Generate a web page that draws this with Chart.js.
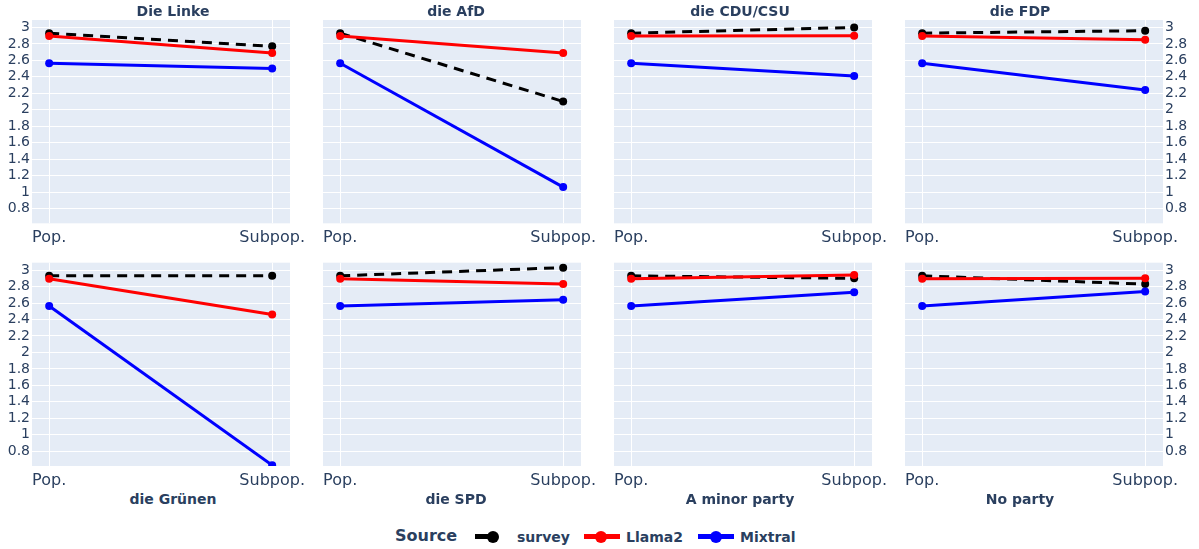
<!DOCTYPE html>
<html>
<head>
<meta charset="utf-8">
<script src="https://cdn.jsdelivr.net/npm/chart.js@4"></script>
<style>
  body { margin: 0; background: #fff; }
  #wrap { position: relative; width: 1199px; height: 549px; overflow: hidden; font-family: 'DejaVu Sans', sans-serif; color: #2a3f5f; }
  #wrap canvas { position: absolute; }
  .title { position: absolute; width: 200px; text-align: center; font-weight: bold; font-size: 14px; line-height: 16px; white-space: nowrap; }
  .lg-text { position: absolute; font-weight: bold; font-size: 14px; line-height: 16px; top: 529px; white-space: nowrap; }
  .lg-head { position: absolute; font-weight: bold; font-size: 16px; line-height: 18px; top: 527px; left: 395px; }
  .lg-line { position: absolute; height: 5px; top: 534px; }
  .lg-dot { position: absolute; width: 12px; height: 12px; border-radius: 50%; top: 531px; }
</style>
</head>
<body>
<div id="wrap"></div>
<script>
// ---- data ----
const categories = ['Pop.', 'Subpop.'];
const parties = ['Die Linke', 'die AfD', 'die CDU/CSU', 'die FDP', 'die Grünen', 'die SPD', 'A minor party', 'No party'];
const seriesNames = ['survey', 'Llama2', 'Mixtral'];
const seriesColors = ['#000000', '#ff0000', '#0000ff'];
const popValues = [2.93, 2.895, 2.565];
const surveySubpop = [2.77, 2.10, 3.00, 2.96, 2.93, 3.03, 2.90, 2.83];
const llamaSubpop = [2.69, 2.69, 2.90, 2.85, 2.46, 2.83, 2.94, 2.90];
const mixtralSubpop = [2.50, 1.06, 2.41, 2.24, 0.63, 2.64, 2.73, 2.74];
const yTicks = [0.8, 1, 1.2, 1.4, 1.6, 1.8, 2, 2.2, 2.4, 2.6, 2.8, 3];

const subpopValues = [surveySubpop, llamaSubpop, mixtralSubpop];

// ---- layout ----
const FONT = "'DejaVu Sans', sans-serif";
const TEXT = '#2a3f5f';
const plotLeft = [32, 323, 614, 905];
const plotWidth = 258;
const titleCenter = [173, 456, 740, 1020];
const LEFT_W = 30;
const RIGHT_W = 36;

const wrap = document.getElementById('wrap');

// plotly-like panel background
const plotBg = {
  id: 'plotBg',
  beforeDraw(chart) {
    const { ctx, chartArea: a } = chart;
    ctx.save();
    ctx.fillStyle = '#e5ecf6';
    ctx.fillRect(a.left, a.top, a.width, a.height);
    ctx.restore();
  },
};

function makePanel(i) {
  const col = i % 4;
  const row = Math.floor(i / 4);
  const rightAxis = col === 3;

  const canvas = document.createElement('canvas');
  canvas.width = LEFT_W + plotWidth + RIGHT_W;
  canvas.height = row === 0 ? 250 : 240;
  canvas.style.left = (plotLeft[col] - LEFT_W) + 'px';
  canvas.style.top = (row === 0 ? 0 : 250) + 'px';
  wrap.appendChild(canvas);

  const title = document.createElement('div');
  title.className = 'title';
  title.textContent = parties[i];
  title.style.left = (titleCenter[col] - 100) + 'px';
  title.style.top = (row === 0 ? 2.5 : 491) + 'px';
  wrap.appendChild(title);

  const xAxisH = row === 0 ? 26.7 : 24;

  new Chart(canvas, {
    type: 'line',
    data: {
      datasets: seriesNames.map((name, s) => ({
        label: name,
        data: categories.map((c, k) => ({ x: k, y: k === 0 ? popValues[s] : subpopValues[s][i] })),
        borderColor: seriesColors[s],
        backgroundColor: seriesColors[s],
        borderWidth: 3,
        borderDash: s === 0 ? [10, 7] : [],
        pointRadius: 4,
        pointHoverRadius: 4,
        pointBorderWidth: 0,
        order: 3 - s,
        clip: 0,
      })),
    },
    options: {
      responsive: false,
      animation: false,
      layout: {
        padding: {
          top: row === 0 ? 20 : 12.7,
          bottom: 0,
          left: rightAxis ? LEFT_W : 0,
          right: rightAxis ? 0 : RIGHT_W,
        },
      },
      plugins: {
        legend: { display: false },
        tooltip: { enabled: false },
      },
      scales: {
        x: {
          type: 'linear',
          min: -0.077,
          max: 1.08,
          afterBuildTicks: s => { s.ticks = categories.map((c, k) => ({ value: k })); },
          afterFit: s => { s.height = xAxisH; },
          border: { display: false },
          grid: { color: '#ffffff', drawTicks: false },
          ticks: {
            callback: v => categories[v],
            font: { family: FONT, size: 16 },
            color: TEXT,
            padding: 5,
            maxRotation: 0,
            autoSkip: false,
          },
        },
        y: {
          position: rightAxis ? 'right' : 'left',
          min: 0.62,
          max: 3.09,
          afterBuildTicks: s => { s.ticks = yTicks.map(v => ({ value: v })); },
          afterFit: s => { s.width = rightAxis ? RIGHT_W : LEFT_W; },
          border: { display: false },
          grid: { color: '#ffffff', drawTicks: false },
          ticks: {
            display: col === 0 || col === 3,
            callback: v => String(v),
            font: { family: FONT, size: 14 },
            color: TEXT,
            padding: 2,
            autoSkip: false,
          },
        },
      },
    },
    plugins: [plotBg],
  });
}

parties.forEach((p, i) => makePanel(i));

// ---- legend ----
const legendLineLeft = [475, 584, 698];
const legendLineWidth = [15, 36, 36];
const legendDotCenter = [493, 601, 716];
const legendTextLeft = [517, 626, 740];

const head = document.createElement('div');
head.className = 'lg-head';
head.textContent = 'Source';
wrap.appendChild(head);

seriesNames.forEach((name, s) => {
  const line = document.createElement('div');
  line.className = 'lg-line';
  line.style.left = legendLineLeft[s] + 'px';
  line.style.width = legendLineWidth[s] + 'px';
  line.style.background = seriesColors[s];
  wrap.appendChild(line);

  const dot = document.createElement('div');
  dot.className = 'lg-dot';
  dot.style.left = (legendDotCenter[s] - 6) + 'px';
  dot.style.background = seriesColors[s];
  wrap.appendChild(dot);

  const txt = document.createElement('div');
  txt.className = 'lg-text';
  txt.style.left = legendTextLeft[s] + 'px';
  txt.textContent = name;
  wrap.appendChild(txt);
});
</script>
</body>
</html>
